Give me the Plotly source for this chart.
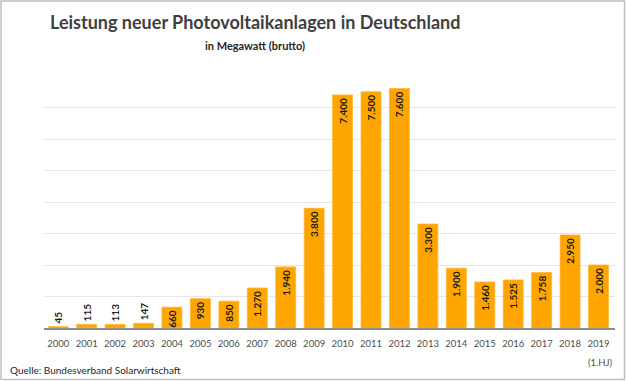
import plotly.graph_objects as go

years = ["2000", "2001", "2002", "2003", "2004", "2005", "2006", "2007", "2008", "2009",
         "2010", "2011", "2012", "2013", "2014", "2015", "2016", "2017", "2018", "2019"]
values = [45, 115, 113, 147, 660, 930, 850, 1270, 1940, 3800,
          7400, 7500, 7600, 3300, 1900, 1460, 1525, 1758, 2950, 2000]
title_text = "Leistung neuer Photovoltaikanlagen in Deutschland"
subtitle_text = "in Megawatt (brutto)"
source_text = "Quelle: Bundesverband Solarwirtschaft"
last_note = "(1.HJ)"

W, H = 626, 381
ML, MR, MT, MB = 44, 11, 76, 53
PW, PH = W - ML - MR, H - MT - MB


def px_x(p):
    return (p - ML) / PW


def px_y(p):
    return (H - MB - p) / PH


labels = [f"{v:,}".replace(",", ".") for v in values]
positions = ["outside" if v < 500 else "inside" for v in values]

fig = go.Figure(go.Bar(
    x=years, y=values, text=labels, textposition=positions,
    textangle=-90, insidetextanchor="end", cliponaxis=False,
    marker=dict(color="#FFA500", line=dict(color="#FFB433", width=0.8)),
    textfont=dict(family="Lato", size=10, color="#1A1A1A", weight="bold"),
    hoverinfo="x+y",
))

fig.update_layout(
    width=W, height=H,
    margin=dict(l=ML, r=MR, t=MT, b=MB, autoexpand=False),
    paper_bgcolor="white", plot_bgcolor="white",
    bargap=0.3, showlegend=False,
    uniformtext=dict(minsize=10, mode="show"),
    font=dict(family="Lato"),
    xaxis=dict(type="category", showline=True, linecolor="#8C8C8C", linewidth=1.5,
               ticks="", ticklabelstandoff=6, automargin=False,
               tickfont=dict(family="Lato", size=9.5, color="#4D4D4D")),
    yaxis=dict(range=[0, 8000], dtick=1000, showgrid=True, gridcolor="#E6E6E6",
               gridwidth=1, showticklabels=False, zeroline=False, ticks="", automargin=False),
    annotations=[
        dict(text=f"<b>{title_text}</b>", x=px_x(255), y=px_y(22), xref="paper", yref="paper",
             showarrow=False, xanchor="center", yanchor="middle",
             font=dict(family="Lato", size=18, color="#404040")),
        dict(text=f"<b>{subtitle_text}</b>", x=px_x(255), y=px_y(45), xref="paper", yref="paper",
             showarrow=False, xanchor="center", yanchor="middle",
             font=dict(family="Lato", size=11, color="#262626")),
        dict(text=source_text, x=px_x(8), y=px_y(370), xref="paper", yref="paper",
             showarrow=False, xanchor="left", yanchor="middle",
             font=dict(family="Lato", size=10, color="#262626")),
        dict(text=last_note, x=len(years) - 1, y=px_y(362), xref="x", yref="paper",
             showarrow=False, xanchor="center", yanchor="middle", xshift=2,
             font=dict(family="Lato", size=9.5, color="#4D4D4D")),
    ],
    shapes=[
        dict(type="rect", xref="paper", yref="paper",
             x0=px_x(1), x1=px_x(624.5), y0=px_y(379.5), y1=px_y(1),
             line=dict(color="#BFBFBF", width=1.5), layer="below"),
    ],
)

fig.write_html("out.html", config={"displayModeBar": False},
               post_script="document.body.style.margin='0';document.body.style.overflow='hidden';")
